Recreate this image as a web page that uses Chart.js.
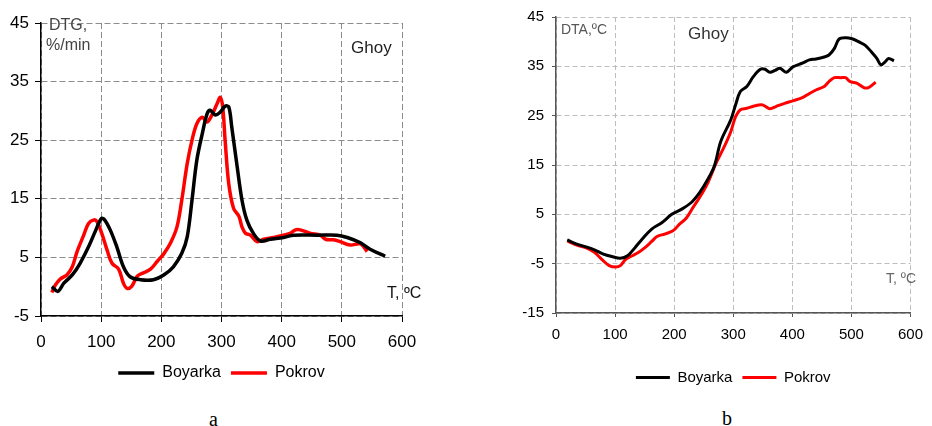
<!DOCTYPE html>
<html>
<head>
<meta charset="utf-8">
<script src="https://cdn.jsdelivr.net/npm/chart.js@4.4.0/dist/chart.umd.min.js"></script>
<style>
  body { margin: 0; background: #fff; }
  #page { position: relative; width: 932px; height: 426px; overflow: hidden; font-family: "Liberation Sans", Arial, sans-serif; }
  canvas { position: absolute; top: 0; }
  .lbl { position: absolute; line-height: 20px; white-space: nowrap; }
  .cap { position: absolute; line-height: 24px; font-family: "Liberation Serif", "Times New Roman", serif; font-size: 20px; }
</style>
</head>
<body>
<div id="page">
  <canvas id="chartA" width="466" height="400" style="left:0px"></canvas>
  <canvas id="chartB" width="466" height="400" style="left:466px"></canvas>

  <div class="lbl" style="left:49px;top:15px;font-size:16px;color:#444">DTG,</div>
  <div class="lbl" style="left:46px;top:35px;font-size:16px;color:#444">%/min</div>
  <div class="lbl" style="left:351px;top:38px;font-size:17px;color:#222">Ghoy</div>
  <div class="lbl" style="left:387px;top:283px;font-size:16px;color:#111">T, ºC</div>

  <div class="lbl" style="left:561px;top:19px;font-size:14px;color:#555">DTA,ºC</div>
  <div class="lbl" style="left:688px;top:24px;font-size:17px;color:#333">Ghoy</div>
  <div class="lbl" style="left:886px;top:268px;font-size:14px;color:#666">T, ºC</div>

  <div class="cap" style="left:209px;top:407px">a</div>
  <div class="cap" style="left:722px;top:406px">b</div>
</div>

<script>
// 데이터 부분 (DTG, %/min)
var dtgBoyarkaT = [18, 28, 38, 52, 65, 79, 90, 100, 105, 115, 126, 137, 148, 165, 187, 204, 220, 234, 243, 251,
    259, 268, 276, 281, 290, 298, 306, 312, 317, 326, 334, 342, 353, 365, 381, 403, 420, 459, 492, 509, 531, 547, 572];
var dtgBoyarka = [0, -0.8, 0.6, 2.0, 4.0, 6.8, 9.4, 11.6, 11.5, 9.7, 6.8, 3.4, 1.7, 1.2, 1.2, 2.0, 3.4, 5.7, 8.5, 14.8,
    21.6, 26.1, 29.5, 30.1, 29.3, 29.8, 30.8, 30.7, 27.3, 20.5, 14.8, 11.4, 9.1, 7.8, 8.1, 8.4, 8.8, 8.8, 8.8, 8.4, 7.5, 6.4, 5.2];

var dtgPokrovT = [18, 24, 32, 43, 52, 60, 71, 79, 88, 93, 101, 110, 118, 129, 137, 143, 151, 160, 171, 182,
    193, 204, 215, 226, 234, 243, 251, 259, 268, 276, 284, 293, 298, 302, 306, 312, 320, 329, 334, 340,
    348, 359, 370, 387, 403, 414, 423, 431, 448, 464, 473, 486, 497, 514, 531, 542];
var dtgPokrov = [-1.0, 0.3, 1.3, 2.0, 3.4, 6.0, 8.8, 10.8, 11.4, 11.1, 9.1, 6.2, 4.0, 3.0, 0.6, -0.3, 0.1, 1.8, 2.4, 3.0,
    4.3, 5.6, 7.4, 10.2, 14.8, 21.0, 25.0, 27.8, 28.9, 28.1, 29.3, 31.3, 32.3, 30.7, 25.0, 17.6, 13.4, 12.0, 10.2, 9.1,
    8.8, 7.7, 8.1, 8.4, 8.8, 9.1, 9.7, 9.7, 9.1, 8.8, 8.1, 8.0, 7.7, 7.1, 7.3, 6.0];

// 데이터 부분 (DTA, ºC)
var dtaBoyarkaT = [19, 34, 51, 65, 79, 96, 109, 121, 134, 146, 162, 179, 196, 212, 229, 243, 257, 268, 279, 296,
    304, 312, 323, 334, 346, 354, 362, 371, 379, 390, 401, 418, 429, 440, 454, 462, 471, 479, 490, 501,
    512, 523, 534, 543, 550, 557, 563, 572];
var dtaBoyarka = [-0.2, -1.0, -1.6, -2.2, -3.0, -3.6, -3.9, -3.4, -1.7, 0.0, 2.0, 3.3, 5.0, 6.0, 7.4, 9.4, 12.1, 14.8, 19.8, 24.2,
    27.2, 29.9, 30.9, 32.9, 34.4, 34.4, 33.8, 34.2, 34.6, 33.8, 34.9, 35.7, 36.3, 36.5, 36.9, 37.3, 38.6, 40.5, 40.8, 40.6,
    40.0, 39.3, 37.9, 36.6, 35.3, 35.9, 36.6, 36.1];

var dtaPokrovT = [19, 34, 51, 65, 79, 90, 101, 109, 118, 129, 140, 151, 162, 171, 184, 198, 209, 221, 232, 243,
    257, 271, 284, 296, 304, 312, 323, 334, 348, 357, 362, 373, 387, 401, 418, 429, 440, 454, 462, 471,
    482, 490, 498, 509, 521, 529, 537, 541];
var dtaPokrov = [-0.4, -1.2, -1.8, -2.7, -4.3, -5.4, -5.7, -5.4, -4.1, -3.4, -2.7, -1.7, -0.5, 0.5, 1.0, 1.65, 3.0, 4.3, 6.4, 8.4,
    11.4, 15.4, 18.5, 21.8, 24.8, 26.2, 26.5, 26.9, 27.2, 26.7, 26.4, 26.9, 27.5, 28.0, 28.7, 29.5, 30.2, 30.9, 31.9, 32.7,
    32.7, 32.7, 31.9, 31.6, 30.7, 30.7, 31.4, 31.8];

var seriesNames = ["Boyarka", "Pokrov"];
var seriesColors = ["#000000", "#ff0000"];

function toPoints(xs, ys) {
    return xs.map(function (x, i) { return { x: x, y: ys[i] }; });
}

// 차트 생성 함수
function make_chart(canvasId, data1, data2, s) {
    var ctx = document.getElementById(canvasId).getContext("2d");
    var sets = [data1, data2].map(function (d, i) {
        return {
            label: seriesNames[i],
            data: d,
            borderColor: seriesColors[i],
            backgroundColor: seriesColors[i],
            borderWidth: s.lineW,
            pointRadius: 0,
            tension: 0.35
        };
    });
    var tickFont = { family: "'Liberation Sans', Arial, sans-serif", size: s.tickSize };
    return new Chart(ctx, {
        type: "line",
        data: { datasets: sets },
        options: {
            responsive: false,
            animation: false,
            devicePixelRatio: 1,
            layout: { padding: s.pad },
            plugins: {
                tooltip: { enabled: false },
                legend: {
                    position: "bottom",
                    fullSize: false,
                    labels: {
                        usePointStyle: true,
                        pointStyle: "line",
                        pointStyleWidth: s.legLine,
                        color: "#000",
                        padding: 10,
                        font: { family: "'Liberation Sans', Arial, sans-serif", size: s.legSize }
                    }
                }
            },
            scales: {
                x: {
                    type: "linear",
                    min: 0, max: 600,
                    ticks: { stepSize: 100, color: "#000", font: tickFont, padding: s.xPad, maxRotation: 0 },
                    grid: { color: s.gridColor, tickColor: s.axisColor, tickLength: s.tickLen, lineWidth: 1 },
                    border: { color: s.axisColor, width: s.axisW, dash: s.dash },
                    afterFit: function (scale) { scale.height = s.xH; }
                },
                y: {
                    min: s.yMin, max: s.yMax,
                    ticks: { stepSize: 10, color: "#000", font: tickFont, padding: s.yPad },
                    grid: { color: s.gridColor, tickColor: s.axisColor, tickLength: s.tickLen, lineWidth: 1 },
                    border: { color: s.axisColor, width: s.axisW, dash: s.dash },
                    afterFit: function (scale) { scale.width = s.yW; }
                }
            }
        }
    });
}

make_chart("chartA", toPoints(dtgBoyarkaT, dtgBoyarka), toPoints(dtgPokrovT, dtgPokrov), {
    lineW: 3.5, tickSize: 17, legSize: 16, legLine: 36,
    pad: { left: 0, right: 64, top: 23, bottom: 9 },
    xH: 39, yW: 41, xPad: 10, yPad: 6, tickLen: 6,
    yMin: -5, yMax: 45,
    gridColor: "#8c8c8c", axisColor: "#000", axisW: 1.5, dash: [6, 3]
});

make_chart("chartB", toPoints(dtaBoyarkaT, dtaBoyarka), toPoints(dtaPokrovT, dtaPokrov), {
    lineW: 3, tickSize: 15, legSize: 15, legLine: 34,
    pad: { left: 0, right: 16, top: 15, bottom: 5 },
    xH: 47, yW: 90, xPad: 9, yPad: 8, tickLen: 4,
    yMin: -15, yMax: 45,
    gridColor: "#bdbdbd", axisColor: "#555", axisW: 1.5, dash: [5, 3]
});
</script>
</body>
</html>
